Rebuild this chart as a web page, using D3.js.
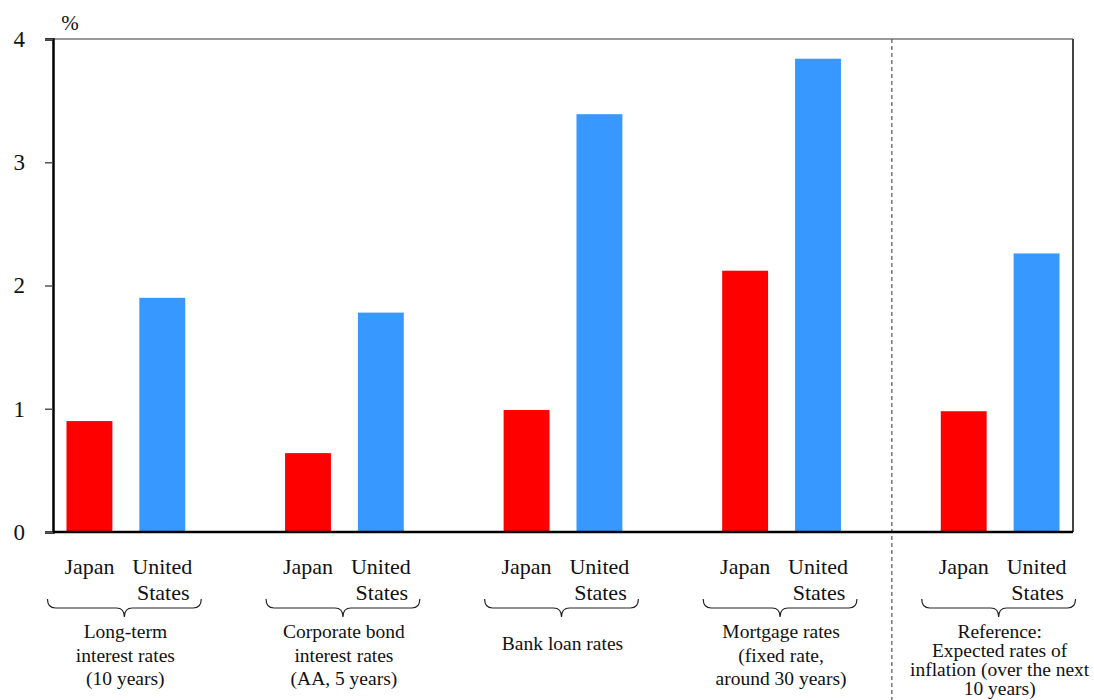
<!DOCTYPE html>
<html>
<head>
<meta charset="utf-8">
<script src="https://cdn.jsdelivr.net/npm/d3@7"></script>
<style>
  body { margin: 0; background: #fff; }
  text { font-family: "Liberation Serif", "Times New Roman", serif; fill: #111; }
</style>
</head>
<body>
<div id="chart"></div>
<script>
// Chart data
const COUNTRIES = ["Japan", "United States"];
const GROUP_LABELS = [
  ["Long-term", "interest rates", "(10 years)"],
  ["Corporate bond", "interest rates", "(AA, 5 years)"],
  ["Bank loan rates"],
  ["Mortgage rates", "(fixed rate,", "around 30 years)"],
  ["Reference:", "Expected rates of", "inflation (over the next", "10 years)"]
];
const JAPAN = [0.90, 0.64, 0.99, 2.12, 0.98];
const US = [1.90, 1.78, 3.39, 3.84, 2.26];
const Y_TICKS = [0, 1, 2, 3, 4];
const COLORS = ["#ff0000", "#3799ff"];

// Frame dimensions
const FRAME_WIDTH = 1094;
const FRAME_HEIGHT = 700;
const MARGINS = {left: 53, right: 21, top: 39, bottom: 168};
const VIS_WIDTH = FRAME_WIDTH - MARGINS.left - MARGINS.right;
const VIS_HEIGHT = FRAME_HEIGHT - MARGINS.top - MARGINS.bottom;

const FRAME = d3.select("#chart")
  .append("svg")
    .attr("width", FRAME_WIDTH)
    .attr("height", FRAME_HEIGHT);

// Each group takes 3 slots (Japan, US, gap); last gap is dropped
const N_SLOTS = GROUP_LABELS.length * 3 - 1;
const X_SCALE = d3.scaleBand()
  .domain(d3.range(N_SLOTS))
  .range([MARGINS.left, MARGINS.left + VIS_WIDTH])
  .paddingInner(0.37)
  .paddingOuter(0.185);

const Y_SCALE = d3.scaleLinear()
  .domain([0, 4])
  .range([MARGINS.top + VIS_HEIGHT, MARGINS.top]);

// Flatten into bar records
const bars = [];
GROUP_LABELS.forEach((g, i) => {
  bars.push({slot: i * 3, value: JAPAN[i], c: 0});
  bars.push({slot: i * 3 + 1, value: US[i], c: 1});
});

// Top and right border of the plot
FRAME.append("line")
  .attr("x1", MARGINS.left - 7).attr("x2", MARGINS.left + VIS_WIDTH)
  .attr("y1", MARGINS.top).attr("y2", MARGINS.top)
  .attr("stroke", "#777").attr("stroke-width", 1.5);
FRAME.append("line")
  .attr("x1", MARGINS.left + VIS_WIDTH).attr("x2", MARGINS.left + VIS_WIDTH)
  .attr("y1", MARGINS.top).attr("y2", MARGINS.top + VIS_HEIGHT)
  .attr("stroke", "#444").attr("stroke-width", 2);

// Dashed separator before the reference group
const sepX = X_SCALE(11) + X_SCALE.bandwidth() / 2 + 1;
FRAME.append("line")
  .attr("x1", sepX).attr("x2", sepX)
  .attr("y1", MARGINS.top).attr("y2", FRAME_HEIGHT)
  .attr("stroke", "#555").attr("stroke-width", 1.2)
  .attr("stroke-dasharray", "4,3");

// Bars
FRAME.selectAll(".bar")
  .data(bars)
  .enter()
  .append("rect")
    .attr("class", "bar")
    .attr("x", (d) => X_SCALE(d.slot))
    .attr("y", (d) => Y_SCALE(d.value))
    .attr("width", X_SCALE.bandwidth())
    .attr("height", (d) => Y_SCALE(0) - Y_SCALE(d.value))
    .attr("fill", (d) => COLORS[d.c]);

// Y axis
const yAxis = FRAME.append("g")
  .attr("transform", "translate(" + MARGINS.left + ",0)")
  .call(d3.axisLeft(Y_SCALE).tickValues(Y_TICKS).tickFormat(d3.format("d"))
          .tickSize(8).tickPadding(20));
yAxis.attr("font-family", null);
yAxis.select(".domain").attr("stroke", "#000").attr("stroke-width", 2.5);
yAxis.selectAll(".tick line").attr("stroke", "#555").attr("stroke-width", 1.5);
yAxis.selectAll(".tick text")
  .attr("font-size", 23)
  .attr("fill", "#111");

// Bottom baseline
FRAME.append("line")
  .attr("x1", MARGINS.left).attr("x2", MARGINS.left + VIS_WIDTH)
  .attr("y1", Y_SCALE(0)).attr("y2", Y_SCALE(0))
  .attr("stroke", "#000").attr("stroke-width", 2.5);

// Unit label
FRAME.append("text")
  .attr("x", 70).attr("y", 30)
  .attr("text-anchor", "middle")
  .attr("font-size", 21)
  .text("%");

// Country labels under each bar
const catLabels = FRAME.selectAll(".cat")
  .data(bars)
  .enter()
  .append("text")
    .attr("class", "cat")
    .attr("x", (d) => X_SCALE(d.slot) + X_SCALE.bandwidth() / 2)
    .attr("y", 574)
    .attr("text-anchor", "middle")
    .attr("font-size", 22);
catLabels.each(function(d) {
  const words = d.c === 0 ? [COUNTRIES[0]] : COUNTRIES[1].split(" ");
  const t = d3.select(this);
  words.forEach((w, i) => {
    t.append("tspan")
      .attr("x", X_SCALE(d.slot) + X_SCALE.bandwidth() / 2 + (i > 0 ? 1 : 0))
      .attr("dy", i === 0 ? 0 : 26)
      .text(w);
  });
});

// Curly braces and group labels
GROUP_LABELS.forEach((lines, i) => {
  const x0 = X_SCALE(i * 3) - 19;
  const x1 = X_SCALE(i * 3 + 1) + X_SCALE.bandwidth() + 16;
  const mid = (x0 + x1) / 2;
  const yTop = 599, yMid = 608, yTip = 617, r = 8;
  const p = d3.path();
  p.moveTo(x0, yTop);
  p.quadraticCurveTo(x0, yMid, x0 + r, yMid);
  p.lineTo(mid - r, yMid);
  p.quadraticCurveTo(mid, yMid, mid, yTip);
  p.quadraticCurveTo(mid, yMid, mid + r, yMid);
  p.lineTo(x1 - r, yMid);
  p.quadraticCurveTo(x1, yMid, x1, yTop);
  FRAME.append("path")
    .attr("d", p.toString())
    .attr("fill", "none")
    .attr("stroke", "#222")
    .attr("stroke-width", 1.2);

  const lh = lines.length > 3 ? 19 : 23.5;
  const startY = lines.length === 1 ? 650 : 638;
  const t = FRAME.append("text")
    .attr("text-anchor", "middle")
    .attr("font-size", 19.5)
    .attr("y", startY);
  lines.forEach((ln, j) => {
    t.append("tspan")
      .attr("x", mid + 1)
      .attr("dy", j === 0 ? 0 : lh)
      .text(ln);
  });
});
</script>
</body>
</html>
